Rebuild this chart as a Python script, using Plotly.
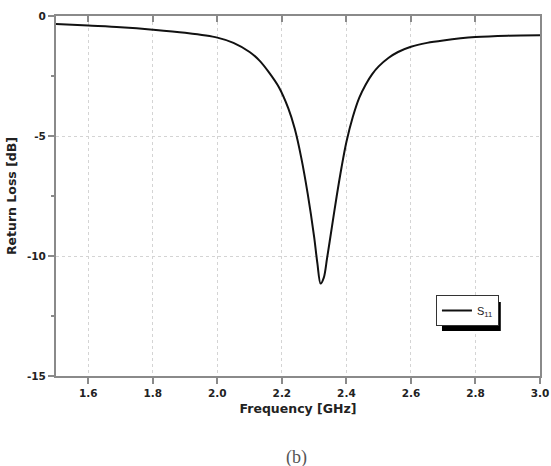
import plotly.graph_objects as go

freq = [1.5, 1.6, 1.7, 1.8, 1.9, 2.0, 2.05, 2.1, 2.13, 2.16, 2.19, 2.22, 2.24, 2.26, 2.28,
        2.3, 2.31, 2.32, 2.33, 2.34, 2.355, 2.37, 2.385, 2.4, 2.42, 2.44, 2.46, 2.48, 2.5,
        2.53, 2.56, 2.6, 2.65, 2.7, 2.8, 2.9, 3.0]
s11 = [-0.33, -0.40, -0.47, -0.57, -0.70, -0.90, -1.12, -1.50, -1.85, -2.35, -2.95, -3.85,
       -4.70, -5.90, -7.40, -9.20, -10.30, -11.15, -10.90, -10.10, -8.80, -7.50, -6.30,
       -5.25, -4.20, -3.40, -2.85, -2.42, -2.10, -1.75, -1.50, -1.28, -1.12, -1.02, -0.88,
       -0.82, -0.80]

x_ticks = [1.6, 1.8, 2.0, 2.2, 2.4, 2.6, 2.8, 3.0]
x_ticktext = ["1.6", "1.8", "2.0", "2.2", "2.4", "2.6", "2.8", "3.0"]
y_ticks = [0, -5, -10, -15]
y_ticktext = ["0", "-5", "-10", "-15"]

axis_col = "#8a8a8a"
tick_font = dict(family="DejaVu Sans", size=10.5, color="#222222", weight="bold")
title_font = dict(family="DejaVu Sans", size=12.5, color="#222222", weight="bold")

fig = go.Figure()
fig.add_trace(go.Scatter(x=freq, y=s11, mode="lines", name="S<sub>11</sub>",
                         line=dict(color="#111111", width=2, shape="spline", smoothing=0.9)))
# invisible trace to drive the top axis
fig.add_trace(go.Scatter(x=freq, y=s11, xaxis="x2", mode="lines", showlegend=False,
                         line=dict(width=0), hoverinfo="skip", opacity=0))

fig.update_layout(
    width=551, height=466,
    margin=dict(l=56, r=11, t=16, b=90),
    paper_bgcolor="white", plot_bgcolor="white",
    showlegend=True,
    xaxis=dict(range=[1.5, 3.0], tickmode="array", tickvals=x_ticks, ticktext=x_ticktext,
               ticks="outside", ticklen=6, tickwidth=1.5, tickcolor=axis_col,
               showline=True, linecolor=axis_col, linewidth=2,
               showgrid=True, gridcolor="#d4d4d4", griddash="dot", gridwidth=1,
               zeroline=False, tickfont=tick_font, automargin=False,
               title=dict(text="Frequency [GHz]", standoff=7, font=title_font)),
    xaxis2=dict(range=[1.5, 3.0], overlaying="x", side="top", tickmode="array", tickvals=x_ticks,
                ticks="inside", ticklen=6, tickwidth=1.5, tickcolor=axis_col,
                showline=True, linecolor=axis_col, linewidth=2, showticklabels=False,
                showgrid=False, zeroline=False, automargin=False),
    yaxis=dict(range=[-15, 0], tickmode="array", tickvals=y_ticks, ticktext=y_ticktext,
               ticks="outside", ticklen=6, tickwidth=1.5, tickcolor=axis_col,
               showline=True, linecolor=axis_col, linewidth=2, mirror=True,
               showgrid=True, gridcolor="#d4d4d4", griddash="dot", gridwidth=1,
               zeroline=False, tickfont=tick_font, automargin=False,
               minor=dict(tickvals=[-2.5, -7.5, -12.5], ticks="outside", ticklen=3,
                          tickcolor=axis_col, showgrid=False),
               title=dict(text="Return Loss [dB]", standoff=8, font=title_font)),
    legend=dict(x=0.785, y=0.225, xanchor="left", yanchor="top",
                bgcolor="white", bordercolor="#333333", borderwidth=1,
                font=dict(family="Liberation Sans", size=11, color="#222222"),
                itemwidth=30, tracegroupgap=0),
    shapes=[dict(type="rect", xref="paper", yref="paper", x0=0.7975, x1=0.919, y0=0.125, y1=0.2056,
                 fillcolor="black", line=dict(width=0), layer="above")],
    annotations=[dict(text="(b)", xref="paper", yref="paper", x=0.497, y=-0.225,
                      xanchor="center", yanchor="middle", showarrow=False,
                      font=dict(family="Liberation Serif", size=18, color="#555555"))],
)

fig.write_html("out.html")
